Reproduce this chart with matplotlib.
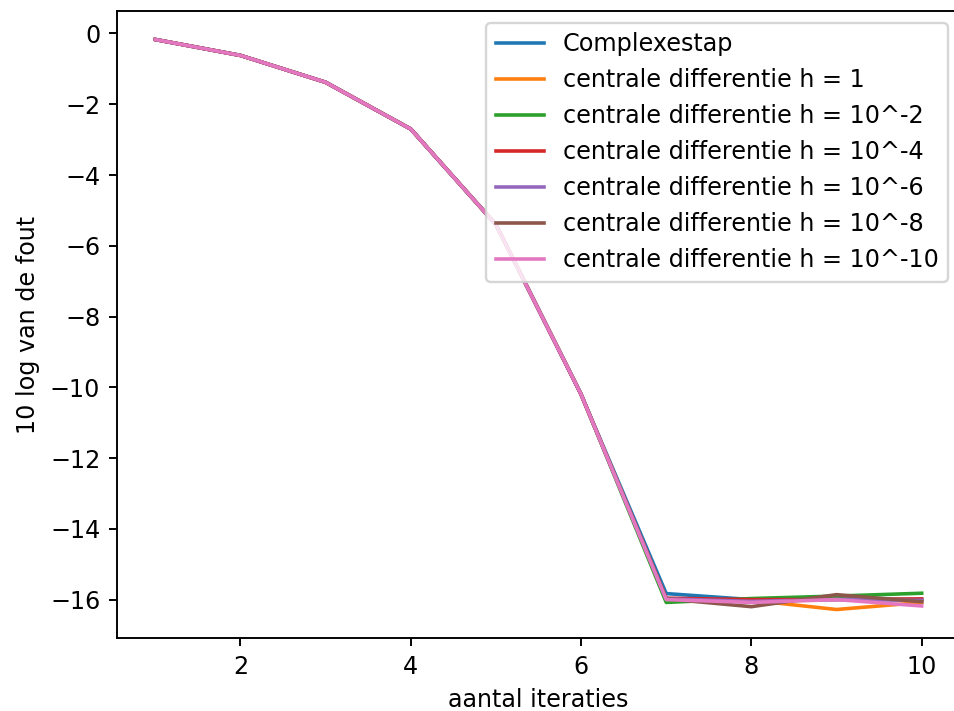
import numpy as np
import matplotlib
matplotlib.use("Agg")
import matplotlib.pyplot as plt

iteraties = np.arange(1, 11)

# gemeenschappelijk begin van alle methoden (iteratie 1 t/m 6)
begin = [-0.17, -0.62, -1.38, -2.70, -5.40, -10.20]

complexestap = begin + [-15.83, -16.00, -15.98, -16.00]
h_1 = begin + [-15.98, -16.02, -16.28, -16.08]
h_2 = begin + [-16.08, -15.97, -15.90, -15.82]
h_4 = begin + [-15.96, -16.00, -16.00, -15.98]
h_6 = begin + [-15.98, -16.05, -16.00, -16.02]
h_8 = begin + [-15.98, -16.20, -15.86, -16.06]
h_10 = begin + [-16.00, -16.08, -16.00, -16.18]

reeksen = [complexestap, h_1, h_2, h_4, h_6, h_8, h_10]
labels = ["Complexestap",
          "centrale differentie h = 1",
          "centrale differentie h = 10^-2",
          "centrale differentie h = 10^-4",
          "centrale differentie h = 10^-6",
          "centrale differentie h = 10^-8",
          "centrale differentie h = 10^-10"]

fig = plt.figure(figsize=(954 / 172, 711 / 172), dpi=172)
fig.subplots_adjust(left=117 / 954, right=960 / 954, top=1 - 11 / 711, bottom=1 - 638 / 711)
ax = fig.add_subplot(111)

for y, lab in zip(reeksen, labels):
    ax.plot(iteraties, y, label=lab)

ax.set_xlabel("aantal iteraties")
ax.set_ylabel("10 log van de fout")
ax.legend(loc="upper right")

fig.savefig("out.png", dpi=172)
